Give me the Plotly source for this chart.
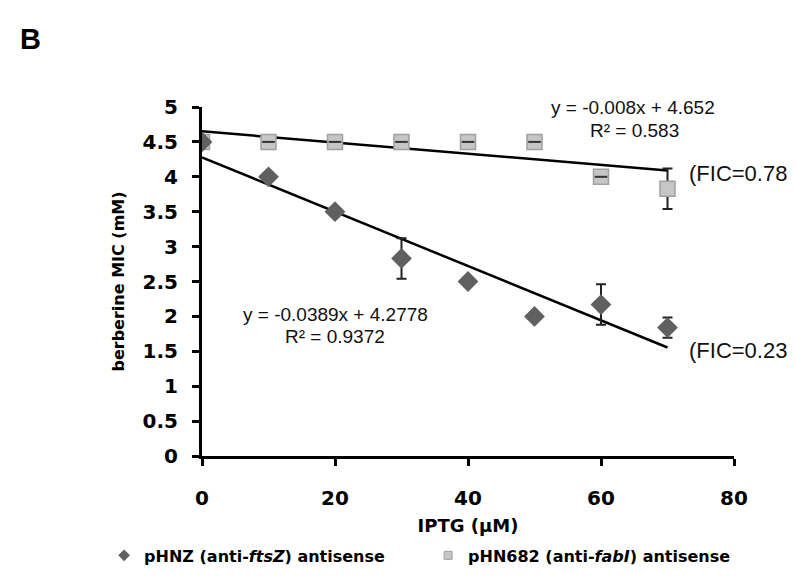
import plotly.graph_objects as go

# ---- data ----
iptg = [0, 10, 20, 30, 40, 50, 60, 70]
ftsz_mic = [4.5, 4.0, 3.5, 2.83, 2.5, 2.0, 2.17, 1.84]
ftsz_err = [0, 0, 0, 0.29, 0, 0, 0.29, 0.145]
fabi_mic = [4.5, 4.5, 4.5, 4.5, 4.5, 4.5, 4.0, 3.83]
fabi_err = [0, 0, 0, 0, 0, 0, 0, 0.29]

ftsz_slope, ftsz_icpt, ftsz_r2 = -0.0389, 4.2778, 0.9372
fabi_slope, fabi_icpt, fabi_r2 = -0.008, 4.652, 0.583
ftsz_fic, fabi_fic = 0.23, 0.78

ftsz_name = "<b>pHNZ (anti-<i>ftsZ</i>) antisense</b>"
fabi_name = "<b>pHN682 (anti-<i>fabI</i>) antisense</b>"

x_ticks = [0, 20, 40, 60, 80]
y_ticks = [0, 0.5, 1, 1.5, 2, 2.5, 3, 3.5, 4, 4.5, 5]

FONT = "Liberation Sans, Arial, sans-serif"
BFONT = "DejaVu Sans, Liberation Sans, sans-serif"

DIAMOND_C = "#606060"
SQ_FILL, SQ_LINE = "#c6c6c6", "#a0a0a0"

fig = go.Figure()

# trend lines
xl = [iptg[0], iptg[-1]]
fig.add_trace(go.Scatter(x=xl, y=[fabi_icpt + fabi_slope * v for v in xl], mode="lines",
                         line=dict(color="black", width=2.5), showlegend=False, hoverinfo="skip"))
fig.add_trace(go.Scatter(x=xl, y=[ftsz_icpt + ftsz_slope * v for v in xl], mode="lines",
                         line=dict(color="black", width=2.5), showlegend=False, hoverinfo="skip"))

# fabI series (squares)
fig.add_trace(go.Scatter(
    x=iptg, y=fabi_mic, mode="markers", name=fabi_name, showlegend=False,
    marker=dict(symbol="square", size=15, color=SQ_FILL, line=dict(color=SQ_LINE, width=1.5)),
    error_y=dict(type="data", array=fabi_err, color="#222222", thickness=2, width=5),
))
# zero-length error caps visible on top of squares
zx = [x for x, e in zip(iptg, fabi_err) if e == 0]
zy = [y for y, e in zip(fabi_mic, fabi_err) if e == 0]
fig.add_trace(go.Scatter(x=zx[1:], y=zy[1:], mode="markers", showlegend=False, hoverinfo="skip",
                         marker=dict(symbol="line-ew", size=9, line=dict(color="#333333", width=2))))

# ftsZ series (diamonds)
fig.add_trace(go.Scatter(
    x=iptg, y=ftsz_mic, mode="markers", name=ftsz_name, showlegend=False,
    marker=dict(symbol="diamond", size=16, color=DIAMOND_C, line=dict(width=0)),
    error_y=dict(type="data", array=ftsz_err, color="#222222", thickness=2, width=5),
))

# legend entries (small markers)
fig.add_trace(go.Scatter(x=[None], y=[None], mode="markers", name=ftsz_name, legendrank=1,
                         marker=dict(symbol="diamond", size=9, color=DIAMOND_C)))
fig.add_trace(go.Scatter(x=[None], y=[None], mode="markers", name=fabi_name, legendrank=2,
                         marker=dict(symbol="square", size=8, color=SQ_FILL, line=dict(color=SQ_LINE, width=1))))

ann_font = dict(family=FONT, size=19, color="#111111")
fic_font = dict(family=FONT, size=22, color="#111111")
annotations = [
    dict(x=22, y=28, text="<b>B</b>", font=dict(family=FONT, size=29, color="black")),
    dict(x=625, y=99, text=f"y = {fabi_slope}x + {fabi_icpt}", font=ann_font),
    dict(x=626, y=123, text=f"R² = {fabi_r2}", font=ann_font),
    dict(x=789, y=168, text=f"(FIC={fabi_fic})", font=fic_font, xanchor="right"),
    dict(x=327, y=315, text=f"y = {ftsz_slope}x + {ftsz_icpt}", font=ann_font),
    dict(x=327, y=338, text=f"R² = {ftsz_r2}", font=ann_font),
    dict(x=789, y=353, text=f"(FIC={ftsz_fic})", font=fic_font, xanchor="right"),
]
# convert pixel positions to paper coordinates
L, R, T, B = 194, 69, 99, 113
W, H = 795, 576
pw, ph = W - L - R, H - T - B
for a in annotations:
    a["xref"] = "paper"; a["yref"] = "paper"
    a.setdefault("xanchor", "center"); a["yanchor"] = "middle"
    a["showarrow"] = False
    a["x"] = (a["x"] - L) / pw
    a["y"] = (H - B - a["y"]) / ph
fig.update_layout(annotations=annotations)

axis_common = dict(showline=True, linecolor="black", linewidth=3, ticks="outside",
                   tickcolor="black", tickwidth=2.5, ticklen=7, showgrid=False, zeroline=False,
                   tickfont=dict(family=BFONT, size=20, color="black"))

fig.update_xaxes(range=[0, 80], tickvals=x_ticks, ticktext=[f"<b>{t}</b>" for t in x_ticks],
                 ticklabelstandoff=15,
                 title=dict(text="<b>IPTG (μM)</b>", font=dict(family=BFONT, size=18, color="black"), standoff=11),
                 **axis_common)
fig.update_yaxes(range=[0, 5], tickvals=y_ticks, ticktext=[f"<b>{t:g}</b>" for t in y_ticks],
                 ticklabelstandoff=10,
                 title=dict(text="<b>berberine MIC (mM)</b>", font=dict(family=BFONT, size=16, color="black"), standoff=14),
                 **axis_common)

fig.update_layout(
    width=W, height=H,
    margin=dict(l=L, r=R, t=T, b=B),
    plot_bgcolor="white", paper_bgcolor="white",
    font=dict(family=FONT, color="black"),
    legend=dict(orientation="h", x=-0.184, xanchor="left", y=-0.285, yanchor="middle",
                font=dict(family=BFONT, size=16, color="black"), itemsizing="trace",
                entrywidth=279, traceorder="normal", bgcolor="rgba(0,0,0,0)"),
    showlegend=True,
)

fig.write_html("out.html")
